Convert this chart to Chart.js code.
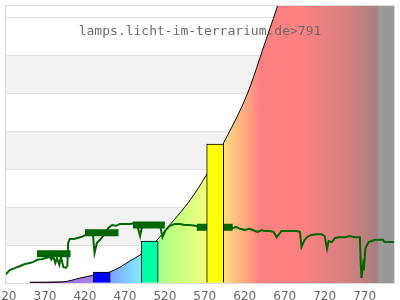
<!DOCTYPE html>
<html><head><meta charset="utf-8">
<script src="https://cdn.jsdelivr.net/npm/chart.js@4"></script>
<style>html,body{margin:0;padding:0;background:#fff;overflow:hidden}#wrap{width:400px;height:300px}</style>
</head><body><div id="wrap"><canvas id="c"></canvas></div>
<script>
const tickLabels = [320,370,420,470,520,570,620,670,720,770];
const xMin = 320, xMax = 808, yMax = 7.34;
const bandTicks = [0,1,2,3,4,5,6,7,7.34];

// black reference curve
const curveNm  = [351,392,414,432,451,464,476,489,495,511,520,539,552,572,594,614,627,643,660,680,700,740,808];
const curveVal = [0.02,0.03,0.13,0.21,0.29,0.42,0.58,0.74,0.85,1.15,1.38,1.85,2.2,2.85,3.72,4.55,5.2,6.2,7.25,8.6,10,13,18];

// measured lamp spectrum (green)
const lampNm  = [314,320,326,333,339,345,351,355,361,366,371,376,378,380,383,385,388,390,393,396,398,399,401,406,411,416,421,426,430,432,435,439,445,449,454,459,464,470,476,482,486,489,491,496,501,507,514,517,521,526,533,539,545,551,558,564,570,576,583,589,595,601,605,609,614,620,626,630,636,641,645,651,656,660,663,666,673,680,685,689,691,695,698,703,710,716,720,723,725,729,733,738,745,751,758,764,765,766,768,769,771,775,783,793,795,801,806,811,814];
const lampVal = [0.13,0.21,0.34,0.40,0.45,0.50,0.53,0.55,0.62,0.63,0.66,0.69,0.62,0.72,0.53,0.66,0.48,0.69,0.42,0.40,0.45,1.06,1.16,1.16,1.19,1.22,1.27,1.32,1.29,0.79,1.06,1.14,1.30,1.45,1.53,1.51,1.56,1.56,1.56,1.58,1.48,1.24,1.45,1.53,1.53,1.56,1.53,1.21,1.40,1.51,1.56,1.56,1.53,1.53,1.51,1.48,1.48,1.45,1.45,1.45,1.45,1.45,1.45,1.48,1.43,1.40,1.43,1.40,1.35,1.40,1.37,1.37,1.35,1.21,1.29,1.37,1.37,1.37,1.37,1.35,0.95,1.14,1.21,1.27,1.29,1.29,1.24,0.90,1.11,1.08,1.19,1.21,1.21,1.24,1.21,1.21,0.61,0.13,0.48,0.34,0.92,1.08,1.14,1.14,1.08,1.08,1.08,1.06,1.06];

// band averages (thick dark green markers)
const markStart = [360,420,480,560];
const markEnd   = [402,462,520,605];
const markVal   = [0.77,1.33,1.53,1.47];

// colour bars
const barNm = [441,501,583];
const barVal = [0.29,1.11,3.67];
const barColors = ['#0000ff','#00ffa8','#ffff00'];

// spectrum fill colours
const specNm = [320,380,395,430,451,476,490,508,530,565,580,594,608,625,640,690,745,786,787.5,808];
const specColors = ['#600060','#7f1f7f','#9a70e8','#b080f0','#80a0ff','#80d0ff','#80eeff','#a0ff98','#c0ff80','#e8ff80','#ffff80','#ffe080','#ffc080','#ffa080','#ff8080','#ff8080','#d88080','#a88080','#999999','#999999'];

const titleText = 'lamps.licht-im-terrarium.de>791';

function zip(xs, ys){ return xs.map((x,i)=>({x:x, y:ys[i]})); }
const markData = [];
markStart.forEach((s,i)=>{ markData.push({x:s,y:markVal[i]},{x:markEnd[i],y:markVal[i]},{x:markEnd[i]+0.1,y:null}); });

function specGradient(chart){
  const xs = chart.scales.x;
  if (!chart.chartArea || !xs) return 'rgba(0,0,0,0)';
  const x0 = xs.getPixelForValue(xMin), x1 = xs.getPixelForValue(xMax);
  const g = chart.ctx.createLinearGradient(x0,0,x1,0);
  specNm.forEach((n,i)=>g.addColorStop((n-xMin)/(xMax-xMin), specColors[i]));
  return g;
}

const bandsPlugin = {
  id:'bands',
  beforeDraw(chart){
    const {ctx, chartArea:a, scales:{y}} = chart;
    ctx.save();
    ctx.fillStyle = '#fff'; ctx.fillRect(0,0,chart.width,chart.height);
    ctx.fillStyle = '#f2f2f2';
    for (let v=1; v<7; v+=2){
      const t = y.getPixelForValue(v+1), b = y.getPixelForValue(v);
      ctx.fillRect(a.left, t, a.right-a.left, b-t);
    }
    ctx.restore();
  },
  afterDraw(chart){
    const {ctx, chartArea:a} = chart;
    ctx.save();
    ctx.strokeStyle = '#dcdcdc'; ctx.lineWidth = 1;
    ctx.strokeRect(a.left+0.5, a.top+0.5, a.right-a.left-1, a.bottom-a.top);
    ctx.font = '13px "DejaVu Sans Mono", monospace';
    ctx.fillStyle = '#6a6a6a'; ctx.textAlign = 'center'; ctx.textBaseline = 'middle';
    ctx.fillText(titleText, 200, 32);
    ctx.restore();
  }
};

new Chart(document.getElementById('c'), {
  type:'line',
  data:{ datasets:[
    { type:'bar', data: zip(barNm, barVal), backgroundColor: barColors, borderColor:'#000', borderWidth:1, barThickness:17, order:0 },
    { data: zip(lampNm, lampVal), borderColor:'#006600', borderWidth:2, pointRadius:0, tension:0, fill:false, order:1 },
    { data: markData, borderColor:'#006600', borderWidth:7, pointRadius:0, fill:false, spanGaps:false, borderCapStyle:'butt', order:1 },
    { data: zip(curveNm, curveVal), borderColor:'#000', borderWidth:1, pointRadius:0, cubicInterpolationMode:'monotone', fill:'origin',
      backgroundColor: ctx => specGradient(ctx.chart), order:2 }
  ]},
  options:{
    animation:false, responsive:true, maintainAspectRatio:false,
    layout:{ padding:{ left:5, right:5, top:5, bottom:0 } },
    plugins:{ legend:{display:false}, tooltip:{enabled:false} },
    scales:{
      x:{ type:'linear', min:xMin, max:xMax, offset:false,
        grid:{ display:false, drawTicks:false },
        border:{ display:true, color:'#dcdcdc' },
        ticks:{ autoSkip:false, maxRotation:0, padding:7, color:'#666', font:{ family:'"DejaVu Sans"', size:12 } },
        afterBuildTicks: s => { s.ticks = tickLabels.map(v=>({value:v})); },
        afterFit: s => { s.height = 17; s.paddingLeft = 0; s.paddingRight = 0; }
      },
      y:{ type:'linear', min:0, max:yMax,
        grid:{ color:'#e0e0e0', drawTicks:false },
        border:{ display:false },
        ticks:{ display:false },
        afterBuildTicks: s => { s.ticks = bandTicks.map(v=>({value:v})); },
        afterFit: s => { s.width = 0; s.paddingTop = 0; s.paddingBottom = 0; }
      }
    }
  },
  plugins:[bandsPlugin]
});
</script></body></html>
